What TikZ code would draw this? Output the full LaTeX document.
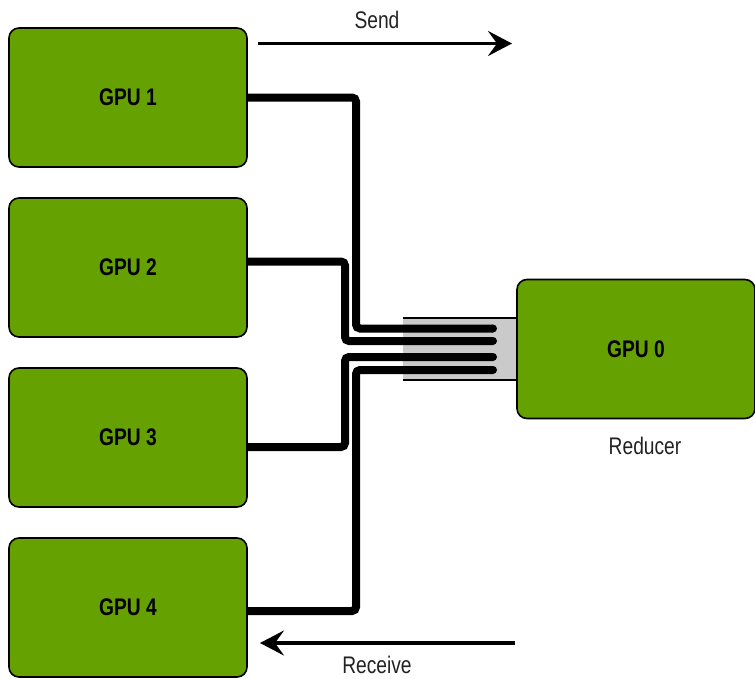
\documentclass[tikz,border=0pt]{standalone}
\usepackage{fontspec}
\newfontfamily\labfont[FakeStretch=0.8]{Liberation Sans}
\usetikzlibrary{arrows.meta}
\definecolor{gpugreen}{HTML}{66A102}
\definecolor{busgray}{HTML}{CACACA}
\definecolor{txt}{HTML}{222222}
\tikzset{
  gpubox/.style={draw=black, line width=1.6pt, fill=gpugreen, rounded corners=10pt,
    minimum width=238pt, minimum height=139pt, inner sep=0pt,
    font=\labfont\fontsize{24}{27}\selectfont\bfseries, text=black},
  wire/.style={line width=8pt, line cap=round, rounded corners=4pt},
  flow/.style={line width=3.5pt, -{Stealth[length=24pt, width=25pt, inset=9pt]}},
  lbl/.style={font=\labfont\fontsize{24}{27}\selectfont, text=txt, inner sep=0pt}
}
\begin{document}
\begin{tikzpicture}[x=1pt, y=-1pt]
\useasboundingbox (0,0) rectangle (755,678);
% bus connector
\fill[busgray] (403,318) rectangle (518,380);
\draw[line width=1.5pt] (403,318) -- (518,318);
\draw[line width=1.5pt] (403,380) -- (518,380);
% boxes
\node[gpubox] (g1) at (128,97.5) {GPU 1};
\node[gpubox] (g2) at (128,267.5) {GPU 2};
\node[gpubox] (g3) at (128,437.5) {GPU 3};
\node[gpubox] (g4) at (128,607.5) {GPU 4};
\node[gpubox] (g0) at (636,349) {GPU 0};
\node[lbl] (red) at (645,446) {Reducer};
% wire ends
\coordinate (e1) at (493,328.5);
\coordinate (e2) at (493,341);
\coordinate (e3) at (493,357);
\coordinate (e4) at (493,370);
% wires
\draw[wire, line cap=butt] (g1.east) -- (356,97.5) -- (356,328.5) -- (e1);
\draw[wire, line cap=butt] ([yshift=6pt]g2.east) -- (345,261.5) -- (345,341) -- (e2);
\draw[wire, line cap=butt] ([yshift=-9.5pt]g3.east) -- (345,447) -- (345,357) -- (e3);
\draw[wire, line cap=butt] ([yshift=-3.5pt]g4.east) -- (356,611) -- (356,370) -- (e4);
\foreach \e in {e1,e2,e3,e4} \fill (\e) circle (4pt);
% send / receive
\coordinate (s0) at (258,43.5);
\coordinate (s1) at (512,43.5);
\coordinate (r0) at (515,643);
\coordinate (r1) at (260,643);
\draw[flow] (s0) -- (s1);
\draw[flow] (r0) -- (r1);
\node[lbl] (send) at (377,20) {Send};
\node[lbl] (recv) at (377,665) {Receive};
\end{tikzpicture}
\end{document}
